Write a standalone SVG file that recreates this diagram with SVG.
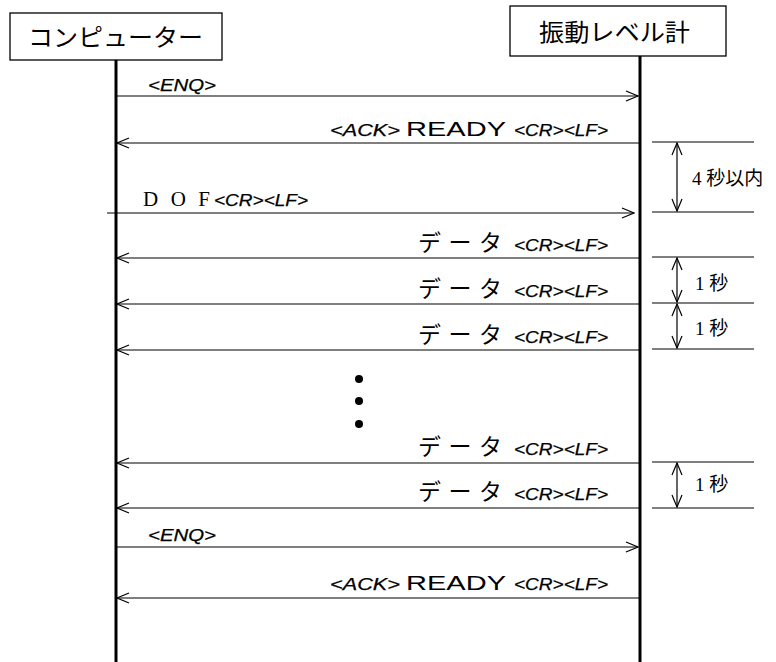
<svg xmlns="http://www.w3.org/2000/svg" width="776" height="662" viewBox="0 0 776 662">
<defs>
<style>
.box{fill:#fff;stroke:#000;stroke-width:1.3}
.life{stroke:#000;stroke-width:3;fill:none}
.msg{stroke:#000;stroke-width:1.2;fill:none}
.dim{stroke:#000;stroke-width:1.2;fill:none}
.ttl{font-family:"Noto Sans CJK JP",sans-serif;font-size:24px;fill:#000}
.it{font-family:"Liberation Sans",Arial,sans-serif;font-style:italic;font-size:17px;fill:#000;stroke:#000;stroke-width:0.25}
.rd{font-family:"Liberation Sans",Arial,sans-serif;font-size:21px;fill:#000}
.jp{font-family:"Noto Sans CJK JP",sans-serif;font-size:23px;fill:#000}
.sf{font-family:"Liberation Serif","Times New Roman",serif;font-size:21px;fill:#000}
.tm{font-family:"Liberation Serif","Noto Sans CJK JP",serif;font-size:19px;fill:#000}
</style>
<marker id="ah" markerWidth="14" markerHeight="12" refX="13" refY="6" orient="auto-start-reverse" markerUnits="userSpaceOnUse">
<path d="M1,1 L13,6 L1,11" fill="none" stroke="#000" stroke-width="1.2"/>
</marker>
</defs>

<g id="computer">
<rect class="box" x="10" y="13" width="212" height="47"/>
<text class="ttl" x="28" y="46" textLength="175" lengthAdjust="spacingAndGlyphs">コンピューター</text>
</g>
<g id="meter">
<rect class="box" x="510" y="6" width="216" height="50"/>
<text class="ttl" x="539" y="41" textLength="151" lengthAdjust="spacingAndGlyphs">振動レベル計</text>
</g>

<g id="lifelines">
<line class="life" x1="116" y1="60" x2="116" y2="662"/>
<line class="life" x1="640" y1="56" x2="640" y2="662"/>
</g>

<g id="connectors">
<line class="msg" x1="116" y1="96" x2="638" y2="96" marker-end="url(#ah)"/>
<line class="msg" x1="639" y1="143" x2="117" y2="143" marker-end="url(#ah)"/>
<line class="msg" x1="107" y1="213" x2="634" y2="213" marker-end="url(#ah)"/>
<line class="msg" x1="639" y1="258" x2="117" y2="258" marker-end="url(#ah)"/>
<line class="msg" x1="639" y1="304" x2="117" y2="304" marker-end="url(#ah)"/>
<line class="msg" x1="639" y1="350" x2="117" y2="350" marker-end="url(#ah)"/>
<line class="msg" x1="639" y1="463" x2="117" y2="463" marker-end="url(#ah)"/>
<line class="msg" x1="639" y1="508" x2="117" y2="508" marker-end="url(#ah)"/>
<line class="msg" x1="116" y1="547" x2="638" y2="547" marker-end="url(#ah)"/>
<line class="msg" x1="639" y1="598" x2="117" y2="598" marker-end="url(#ah)"/>
</g>

<g id="labels">
<text class="it" x="148" y="91" textLength="68" lengthAdjust="spacingAndGlyphs">&lt;ENQ&gt;</text>

<text class="it" x="330" y="136" textLength="70" lengthAdjust="spacingAndGlyphs">&lt;ACK&gt;</text>
<text class="rd" x="406" y="136" textLength="100" lengthAdjust="spacingAndGlyphs">READY</text>
<text class="it" x="514" y="136" textLength="94" lengthAdjust="spacingAndGlyphs">&lt;CR&gt;&lt;LF&gt;</text>

<text class="sf" x="143" y="206" textLength="67" lengthAdjust="spacing">D O F</text>
<text class="it" x="214" y="206" textLength="94" lengthAdjust="spacingAndGlyphs">&lt;CR&gt;&lt;LF&gt;</text>

<text class="jp" x="418" y="251" textLength="84" lengthAdjust="spacing">データ</text>
<text class="it" x="514" y="251" textLength="94" lengthAdjust="spacingAndGlyphs">&lt;CR&gt;&lt;LF&gt;</text>
<text class="jp" x="418" y="297" textLength="84" lengthAdjust="spacing">データ</text>
<text class="it" x="514" y="297" textLength="94" lengthAdjust="spacingAndGlyphs">&lt;CR&gt;&lt;LF&gt;</text>
<text class="jp" x="418" y="343" textLength="84" lengthAdjust="spacing">データ</text>
<text class="it" x="514" y="343" textLength="94" lengthAdjust="spacingAndGlyphs">&lt;CR&gt;&lt;LF&gt;</text>
<text class="jp" x="418" y="455" textLength="84" lengthAdjust="spacing">データ</text>
<text class="it" x="514" y="455" textLength="94" lengthAdjust="spacingAndGlyphs">&lt;CR&gt;&lt;LF&gt;</text>
<text class="jp" x="418" y="500" textLength="84" lengthAdjust="spacing">データ</text>
<text class="it" x="514" y="500" textLength="94" lengthAdjust="spacingAndGlyphs">&lt;CR&gt;&lt;LF&gt;</text>

<text class="it" x="148" y="541" textLength="68" lengthAdjust="spacingAndGlyphs">&lt;ENQ&gt;</text>

<text class="it" x="330" y="590" textLength="70" lengthAdjust="spacingAndGlyphs">&lt;ACK&gt;</text>
<text class="rd" x="406" y="590" textLength="100" lengthAdjust="spacingAndGlyphs">READY</text>
<text class="it" x="514" y="590" textLength="94" lengthAdjust="spacingAndGlyphs">&lt;CR&gt;&lt;LF&gt;</text>
</g>

<g id="ellipsis">
<circle cx="359" cy="379" r="4"/>
<circle cx="359" cy="401" r="4"/>
<circle cx="359" cy="424" r="4"/>
</g>

<g id="timing">
<line class="dim" x1="652" y1="142" x2="754" y2="142"/>
<line class="dim" x1="652" y1="212" x2="754" y2="212"/>
<line class="dim" x1="677" y1="143" x2="677" y2="211" marker-start="url(#ah)" marker-end="url(#ah)"/>
<text class="tm" x="692" y="185">4 秒以内</text>

<line class="dim" x1="652" y1="257" x2="754" y2="257"/>
<line class="dim" x1="652" y1="303" x2="754" y2="303"/>
<line class="dim" x1="652" y1="349" x2="754" y2="349"/>
<line class="dim" x1="677" y1="258" x2="677" y2="302" marker-start="url(#ah)" marker-end="url(#ah)"/>
<line class="dim" x1="677" y1="304" x2="677" y2="348" marker-start="url(#ah)" marker-end="url(#ah)"/>
<text class="tm" x="695" y="290">1 秒</text>
<text class="tm" x="695" y="335">1 秒</text>

<line class="dim" x1="652" y1="462" x2="754" y2="462"/>
<line class="dim" x1="652" y1="508" x2="754" y2="508"/>
<line class="dim" x1="677" y1="463" x2="677" y2="507" marker-start="url(#ah)" marker-end="url(#ah)"/>
<text class="tm" x="695" y="491">1 秒</text>
</g>
</svg>
